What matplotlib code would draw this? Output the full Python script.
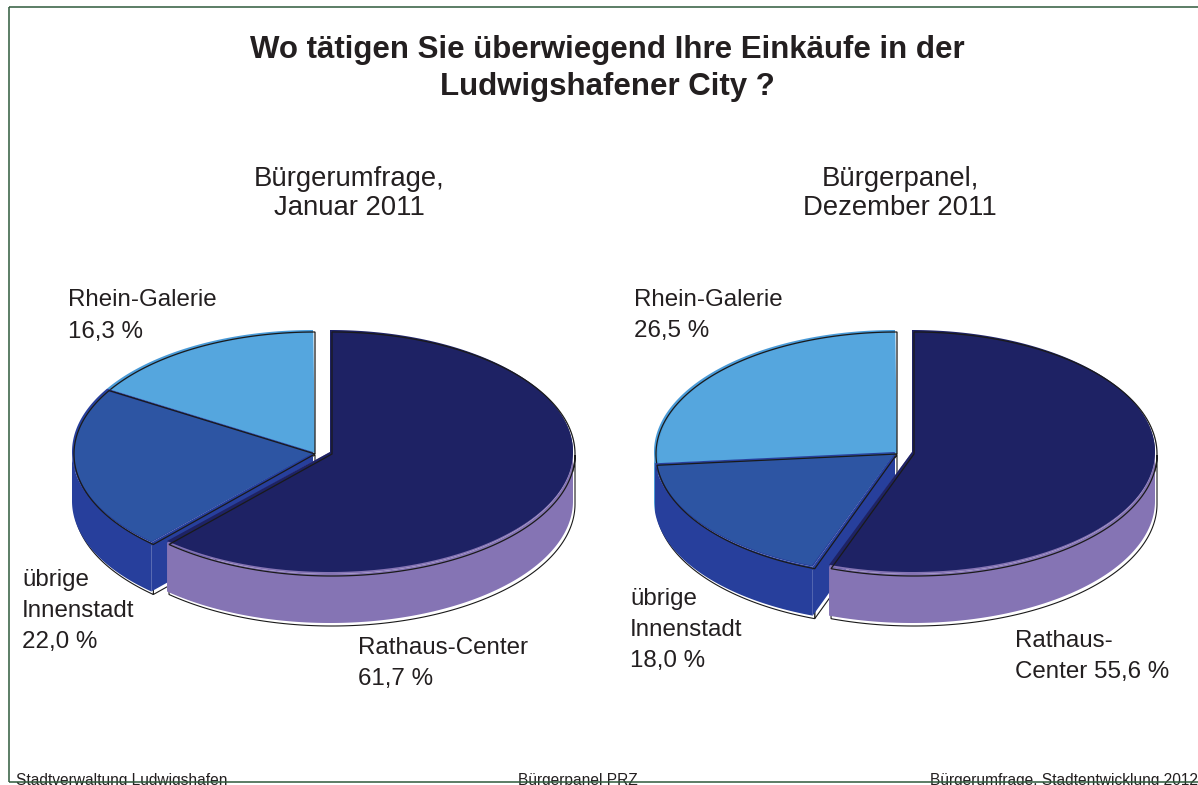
import numpy as np
import matplotlib
matplotlib.use("Agg")
import matplotlib.pyplot as plt
from matplotlib.patches import Polygon, Rectangle

plt.rcParams['font.family'] = ['Liberation Sans', 'DejaVu Sans']

title_lines = ["Wo tätigen Sie überwiegend Ihre Einkäufe in der", "Ludwigshafener City ?"]
subtitle_left = ["Bürgerumfrage,", "Januar 2011"]
subtitle_right = ["Bürgerpanel,", "Dezember 2011"]
categories = ["Rathaus-Center", "übrige Innenstadt", "Rhein-Galerie"]
values_left = [61.7, 22.0, 16.3]
values_right = [55.6, 18.0, 26.5]
footer = ["Stadtverwaltung Ludwigshafen", "Bürgerpanel PRZ", "Bürgerumfrage, Stadtentwicklung 2012"]

TOP = ['#1e2264', '#2d55a3', '#55a6de']
SIDE = ['#8574b4', '#273f9c', '#4a9bd8']
FRAME = '#2f5a3c'
TXT = '#231f20'

W, H = 1198, 785
fig = plt.figure(figsize=(W / 100, H / 100), dpi=100)
ax = fig.add_axes([0, 0, 1, 1])
ax.set_xlim(0, W)
ax.set_ylim(H, 0)
ax.axis('off')


def rim(cx, cy, rx, ry, a0, a1):
    t = np.radians(np.linspace(a0, a1, 240))
    return np.column_stack([cx + rx * np.sin(t), cy - ry * np.cos(t)])


def poly(pts, fc, ec='none', lw=0.0, dx=0, dy=0, z=2):
    ax.add_patch(Polygon(np.asarray(pts) + [dx, dy], closed=True, facecolor=fc,
                         edgecolor=ec, linewidth=lw, zorder=z, joinstyle='miter'))


def slab(cx, cy, rx, ry, depth, a0, a1, i, z):
    """side, cut face and top of one slice between two clockwise angles"""
    edge = '#1a1a1a'
    center = np.array([[cx, cy]])
    down = np.array([0, depth])
    a = max(a0, 90)
    b = min(a1, 270)
    if i == 1:
        r0 = rim(cx, cy, rx, ry, a0, a0)
        face = np.vstack([center, r0, r0 + down, center + down])
        poly(face, 'white', edge, 0.8, 2, 3, z)
        poly(face, SIDE[i], z=z + 0.1)
    if a < b:
        arc = rim(cx, cy, rx, ry, a, b)
        side = np.vstack([arc, (arc + down)[::-1]])
        poly(side, 'white', edge, 0.8, 2, 3, z)
        poly(side, SIDE[i], z=z + 0.1)
    top = np.vstack([center, rim(cx, cy, rx, ry, a0, a1)])
    if i == 0:
        poly(np.vstack([center, rim(cx, cy, rx, ry, a, a1)]), SIDE[0], z=z + 0.2)
        poly(np.vstack([center, rim(cx, cy, rx, ry, a0, a)]), TOP[0], z=z + 0.2)
        poly(np.vstack([center, rim(cx, cy, rx, ry - 2, a0, a1)]), TOP[0], z=z + 0.25)
    else:
        poly(top, SIDE[i], z=z + 0.2)
        inner = np.vstack([center, rim(cx, cy, rx - 2, ry - 2, a0 + 0.4, a1 - 0.4)])
        poly(inner, TOP[i], z=z + 0.25, dx=2 if i == 2 else 0, dy=1)
    poly(top, 'none', edge, 0.9, 2, 2, z + 0.3)


def pie3d(vals, cx, cy, rx, ry, depth, offset):
    ang = np.concatenate([[0], np.cumsum(vals) / np.sum(vals) * 360])
    slab(cx - offset, cy, rx - 2, ry, depth, ang[2], ang[3], 2, 2)
    slab(cx - offset, cy, rx - 2, ry, depth, ang[1], ang[2], 1, 3)
    slab(cx, cy, rx, ry, depth, ang[0], ang[1], 0, 4)


pie3d(values_left, 330, 452, 243, 122, 49, 17)
pie3d(values_right, 912, 452, 243, 122, 49, 17)

# frame
for xs, ys in [((9, 9), (7, 782)), ((9, 1198), (7, 7)), ((9, 1198), (782, 782))]:
    ax.plot(xs, ys, color=FRAME, lw=1.1, zorder=6, solid_capstyle='butt')

# texts
kw = dict(color=TXT, va='center', zorder=7)
for y, s in zip((50, 87), title_lines):
    ax.text(607, y, s, ha='center', fontsize=22.5, fontweight='bold', **kw)
for y, s in zip((179, 208), subtitle_left):
    ax.text(349, y, s, ha='center', fontsize=19.8, **kw)
for y, s in zip((179, 208), subtitle_right):
    ax.text(900, y, s, ha='center', fontsize=19.8, **kw)


def lab(x, ys, lines):
    for y, s in zip(ys, lines):
        ax.text(x, y, s, ha='left', fontsize=17.35, **kw)


def pct(v):
    return f"{v:.1f} %".replace('.', ',')


lab(68, (300, 332), ["Rhein-Galerie", pct(values_left[2])])
lab(22, (580, 611, 642), ["übrige", "Innenstadt", pct(values_left[1])])
lab(358, (648, 679), ["Rathaus-Center", pct(values_left[0])])
lab(634, (300, 331), ["Rhein-Galerie", pct(values_right[2])])
lab(630, (599, 630, 661), ["übrige", "Innenstadt", pct(values_right[1])])
lab(1015, (641, 672), ["Rathaus-", "Center " + pct(values_right[0])])

clip = Rectangle((0, 0), W, 781, transform=ax.transData)
for x, ha, s in zip((16, 578, 1198), ('left', 'center', 'right'), footer):
    t = ax.text(x, 780, s, ha=ha, fontsize=11.2, color=TXT, va='center', zorder=5)
    t.set_clip_path(clip)

fig.savefig('out.png', dpi=100, facecolor='white')
